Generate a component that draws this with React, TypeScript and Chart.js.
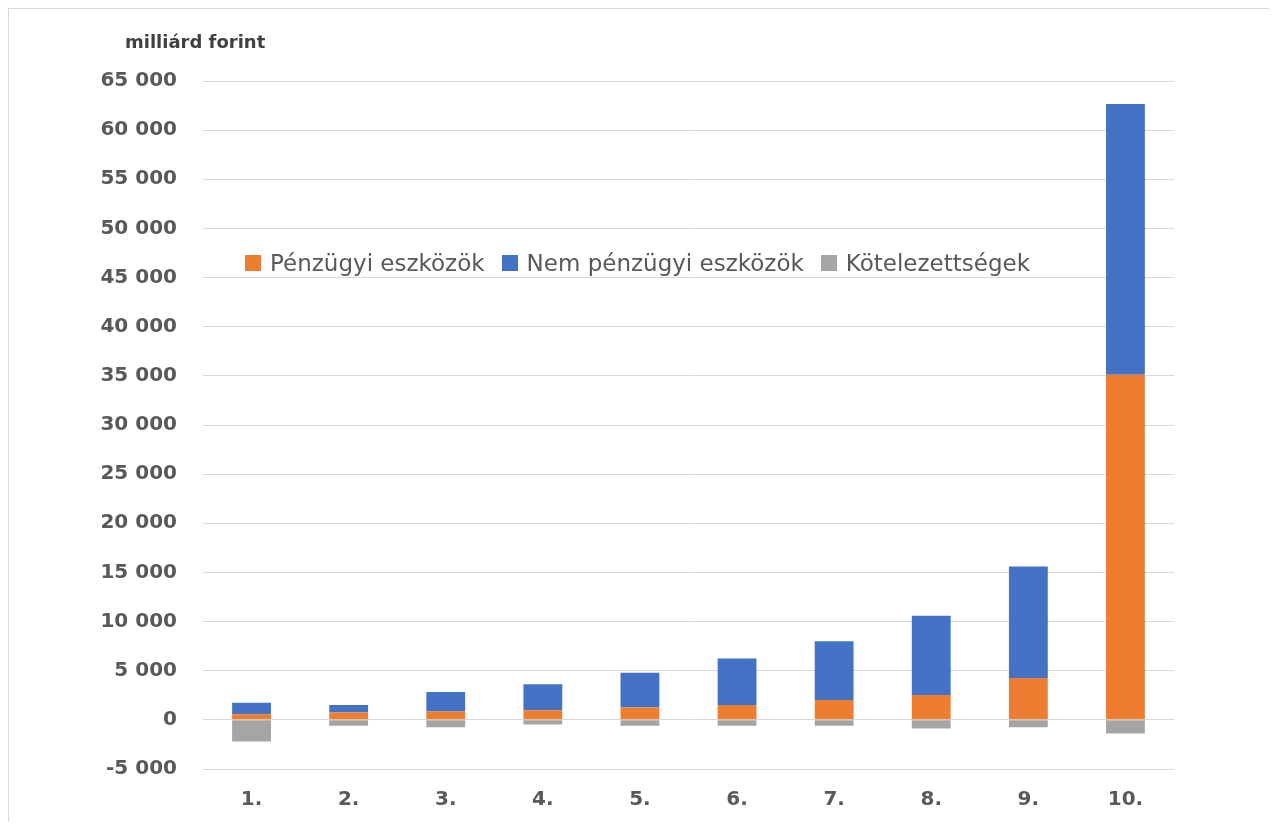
import React, { useEffect, useRef } from "react";
import { Chart, registerables } from "chart.js";

Chart.register(...registerables);

const categories = ["1.", "2.", "3.", "4.", "5.", "6.", "7.", "8.", "9.", "10."];
const financialAssets = [580, 740, 840, 980, 1250, 1520, 2020, 2530, 4250, 35100];
const nonFinancialAssets = [1170, 780, 2000, 2640, 3540, 4720, 5980, 8070, 11350, 27550];
const liabilities = [-2200, -610, -740, -470, -610, -610, -610, -880, -740, -1390];

const seriesNames = ["Pénzügyi eszközök", "Nem pénzügyi eszközök", "Kötelezettségek"];
const seriesColors = ["#ED7D31", "#4472C4", "#A5A5A5"];
const yTitle = "milliárd forint";

const fmt = (v: number) => {
  const s = Math.abs(v).toString().replace(/\B(?=(\d{3})+(?!\d))/g, " ");
  return (v < 0 ? "-" : "") + s;
};

export default function App() {
  const ref = useRef<HTMLCanvasElement | null>(null);

  useEffect(() => {
    if (!ref.current) return;
    const chart = new Chart(ref.current, {
      type: "bar",
      data: {
        labels: categories,
        datasets: [
          { label: seriesNames[0], data: financialAssets, backgroundColor: seriesColors[0] },
          { label: seriesNames[1], data: nonFinancialAssets, backgroundColor: seriesColors[1] },
          { label: seriesNames[2], data: liabilities, backgroundColor: seriesColors[2] },
        ],
      },
      options: {
        responsive: false,
        animation: false,
        devicePixelRatio: 1,
        layout: { padding: { top: 72, right: 87, bottom: 0, left: 0 } },
        datasets: { bar: { categoryPercentage: 1, barPercentage: 0.4, borderWidth: 0 } },
        plugins: { legend: { display: false }, title: { display: false }, tooltip: { enabled: false } },
        scales: {
          x: {
            stacked: true,
            grid: { display: false, drawTicks: false },
            border: { display: false },
            ticks: {
              color: "#595959",
              padding: 19,
              font: { family: "DejaVu Sans", weight: "bold", size: 20 },
            },
            afterFit: (s: any) => {
              s.height = 53;
            },
          },
          y: {
            stacked: true,
            min: -5000,
            max: 65000,
            grid: { color: "#d9d9d9", lineWidth: 1, drawTicks: false },
            border: { display: false },
            ticks: {
              stepSize: 5000,
              color: "#595959",
              padding: 26,
              font: { family: "DejaVu Sans", weight: "bold", size: 20 },
              callback: (v: any) => fmt(Number(v)),
            },
            afterFit: (s: any) => {
              s.width = 194;
            },
          },
        },
      },
    });
    return () => chart.destroy();
  }, []);

  return (
    <div
      style={{
        position: "relative",
        width: 1260,
        height: 813,
        borderLeft: "1px solid #d9d9d9",
        borderTop: "1px solid #d9d9d9",
        overflow: "hidden",
      }}
    >
      <canvas ref={ref} width={1252} height={813} style={{ display: "block" }} />
      <div
        style={{
          position: "absolute",
          left: 116,
          top: 21,
          fontFamily: "DejaVu Sans",
          fontWeight: "bold",
          fontSize: 18,
          color: "#404040",
          lineHeight: "24px",
          whiteSpace: "nowrap",
        }}
      >
        {yTitle}
      </div>
      <div
        style={{
          position: "absolute",
          left: 236,
          top: 240,
          height: 28,
          display: "flex",
          alignItems: "center",
          fontFamily: "DejaVu Sans",
          fontSize: 23,
          color: "#595959",
          whiteSpace: "nowrap",
        }}
      >
        {seriesNames.map((n, i) => (
          <div key={n} style={{ display: "flex", alignItems: "center", marginRight: 17 }}>
            <span style={{ display: "inline-block", width: 16, height: 16, background: seriesColors[i], marginRight: 9 }} />
            <span>{n}</span>
          </div>
        ))}
      </div>
    </div>
  );
}
